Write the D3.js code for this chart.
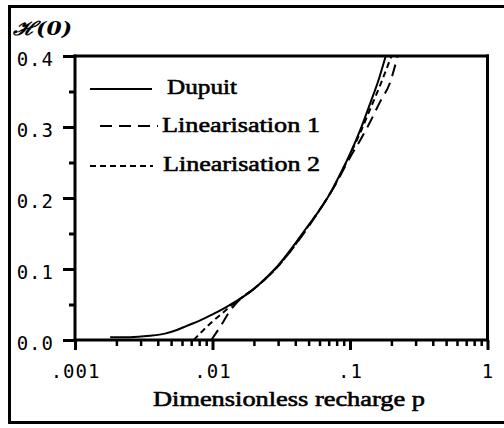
<!DOCTYPE html>
<html>
<head>
<meta charset="utf-8">
<script src="https://cdn.jsdelivr.net/npm/d3@7"></script>
<style>
  body { margin: 0; background: #fff; }
</style>
</head>
<body>
<script>
// values (p = dimensionless recharge, k = H(0))
const pDupuit = [0.0018, 0.0025, 0.0035, 0.0045, 0.0055, 0.0065, 0.008, 0.01, 0.0125, 0.015, 0.02, 0.025, 0.03, 0.04, 0.05, 0.06, 0.07, 0.08, 0.1, 0.12, 0.14, 0.16, 0.182];
const kDupuit = [0.004, 0.004, 0.006, 0.009, 0.014, 0.020, 0.027, 0.036, 0.046, 0.055, 0.072, 0.089, 0.105, 0.136, 0.162, 0.183, 0.203, 0.224, 0.262, 0.298, 0.333, 0.364, 0.400];

const pLin1 = [0.0098, 0.0115, 0.0135, 0.016, 0.02, 0.03, 0.05, 0.08, 0.1, 0.12, 0.14, 0.165, 0.195, 0.222];
const kLin1 = [0.0, 0.020, 0.042, 0.058, 0.072, 0.104, 0.160, 0.222, 0.257, 0.283, 0.307, 0.335, 0.362, 0.400];

const pLin2 = [0.0073, 0.0081, 0.0096, 0.0115, 0.014, 0.017, 0.02, 0.03, 0.05, 0.08, 0.1, 0.12, 0.14, 0.165, 0.2];
const kLin2 = [0.0, 0.009, 0.023, 0.036, 0.050, 0.062, 0.072, 0.104, 0.161, 0.223, 0.261, 0.294, 0.325, 0.358, 0.400];

const xTickValues = [0.001, 0.01, 0.1, 1];
const xTickLabels = [".001", ".01", ".1", "1"];
const yTickValues = [0, 0.1, 0.2, 0.3, 0.4];
const yTickLabels = ["0.0", "0.1", "0.2", "0.3", "0.4"];
const yMinorValues = [0.05, 0.15, 0.25, 0.35];
const legendLabels = ["Dupuit", "Linearisation 1", "Linearisation 2"];

const W = 504, H = 428;
const plotLeft = 75, plotRight = 487.5, plotTop = 56, plotBottom = 340;

const svg = d3.select("body").append("svg")
  .attr("width", W)
  .attr("height", H);

// outer frame
svg.append("rect")
  .attr("x", 9.5).attr("y", 6.5)
  .attr("width", 500).attr("height", 416)
  .attr("fill", "none")
  .attr("stroke", "#000")
  .attr("stroke-width", 3);

const x = d3.scaleLog().domain([0.001, 1]).range([plotLeft, plotRight]);
const y = d3.scaleLinear().domain([0, 0.4]).range([plotBottom, plotTop]);

const tickFont = "'DejaVu Sans Mono', 'Liberation Mono', monospace";
const serifFont = "'Liberation Serif', 'DejaVu Serif', serif";

// minor x ticks
const xMinor = x.ticks(10).filter(d => !xTickValues.includes(d));
const gxm = svg.append("g")
  .attr("transform", `translate(0,${plotBottom})`)
  .call(d3.axisBottom(x).tickValues(xMinor).tickSize(6).tickSizeOuter(0).tickFormat(""));
gxm.select(".domain").remove();
gxm.selectAll(".tick line").attr("stroke-width", 2.5);

// major x ticks
const gx = svg.append("g")
  .attr("transform", `translate(0,${plotBottom})`)
  .call(d3.axisBottom(x).tickValues(xTickValues).tickSize(10).tickSizeOuter(0)
    .tickFormat((d, i) => xTickLabels[i]));
gx.select(".domain").remove();
gx.selectAll(".tick line").attr("stroke-width", 3);
gx.selectAll(".tick text")
  .attr("y", 38).attr("dy", 0)
  .style("font-family", tickFont)
  .style("font-size", "19px")
  .style("letter-spacing", "1px")
  .attr("fill", "#000");

// minor y ticks
const gym = svg.append("g")
  .attr("transform", `translate(${plotLeft},0)`)
  .call(d3.axisLeft(y).tickValues(yMinorValues).tickSize(6).tickSizeOuter(0).tickFormat(""));
gym.select(".domain").remove();
gym.selectAll(".tick line").attr("stroke-width", 3);

// major y ticks
const gy = svg.append("g")
  .attr("transform", `translate(${plotLeft},0)`)
  .call(d3.axisLeft(y).tickValues(yTickValues).tickSize(12).tickPadding(9).tickSizeOuter(0)
    .tickFormat((d, i) => yTickLabels[i]));
gy.select(".domain").remove();
gy.selectAll(".tick line").attr("stroke-width", 3);
gy.selectAll(".tick text")
  .attr("dy", "0.5em")
  .style("font-family", tickFont)
  .style("font-size", "19px")
  .style("letter-spacing", "1px")
  .attr("fill", "#000");

// plot frame
const frame = [
  [x(0.001), y(0.4), x(0.001), y(0)],
  [x(0.001), y(0), x(1), y(0)],
  [x(0.001), y(0.4), x(1), y(0.4)],
  [x(1), y(0.4), x(1), y(0)]
];
svg.append("g").selectAll("line")
  .data(frame)
  .join("line")
  .attr("x1", d => d[0]).attr("y1", d => d[1])
  .attr("x2", d => d[2]).attr("y2", d => d[3])
  .attr("stroke", "#000")
  .attr("stroke-width", 3)
  .attr("stroke-linecap", "square");

// curves
const line = d3.line()
  .x(d => x(d[0]))
  .y(d => y(d[1]))
  .curve(d3.curveMonotoneX);

const series = [
  { p: pDupuit, k: kDupuit, dash: null },
  { p: pLin1, k: kLin1, dash: "12,7" },
  { p: pLin2, k: kLin2, dash: "6,4" }
];

svg.append("g").selectAll("path")
  .data(series)
  .join("path")
  .attr("d", s => line(s.p.map((p, i) => [p, s.k[i]])))
  .attr("fill", "none")
  .attr("stroke", "#000")
  .attr("stroke-width", 2)
  .attr("stroke-dasharray", s => s.dash);

// legend
const legendRows = [
  { x1: 90, x2: 152, ly: 89, ty: 94, tx: 167, tw: 70 },
  { x1: 100, x2: 158, ly: 126, ty: 132, tx: 162, tw: 158 },
  { x1: 90, x2: 153, ly: 166, ty: 171, tx: 163, tw: 157 }
];
const lg = svg.append("g");
legendRows.forEach((r, i) => {
  lg.append("line")
    .attr("x1", r.x1).attr("x2", r.x2)
    .attr("y1", r.ly).attr("y2", r.ly)
    .attr("stroke", "#000")
    .attr("stroke-width", 2)
    .attr("stroke-dasharray", series[i].dash);
  lg.append("text")
    .attr("x", r.tx).attr("y", r.ty)
    .attr("textLength", r.tw)
    .attr("lengthAdjust", "spacingAndGlyphs")
    .attr("stroke", "#000")
    .attr("stroke-width", 0.6)
    .style("font-family", serifFont)
    .style("font-size", "22px")
    .text(legendLabels[i]);
});

// axis titles
svg.append("text")
  .attr("x", 153).attr("y", 406)
  .attr("textLength", 272)
  .attr("lengthAdjust", "spacingAndGlyphs")
  .attr("stroke", "#000")
  .attr("stroke-width", 0.6)
  .style("font-family", serifFont)
  .style("font-size", "22px")
  .text("Dimensionless recharge p");

svg.append("text")
  .attr("x", 13).attr("y", 35)
  .attr("textLength", 59)
  .attr("lengthAdjust", "spacingAndGlyphs")
  .style("font-family", "'DejaVu Serif', serif")
  .style("font-size", "19px")
  .style("font-style", "italic")
  .style("font-weight", "bold")
  .text("ℋ(0)");
</script>
</body>
</html>
